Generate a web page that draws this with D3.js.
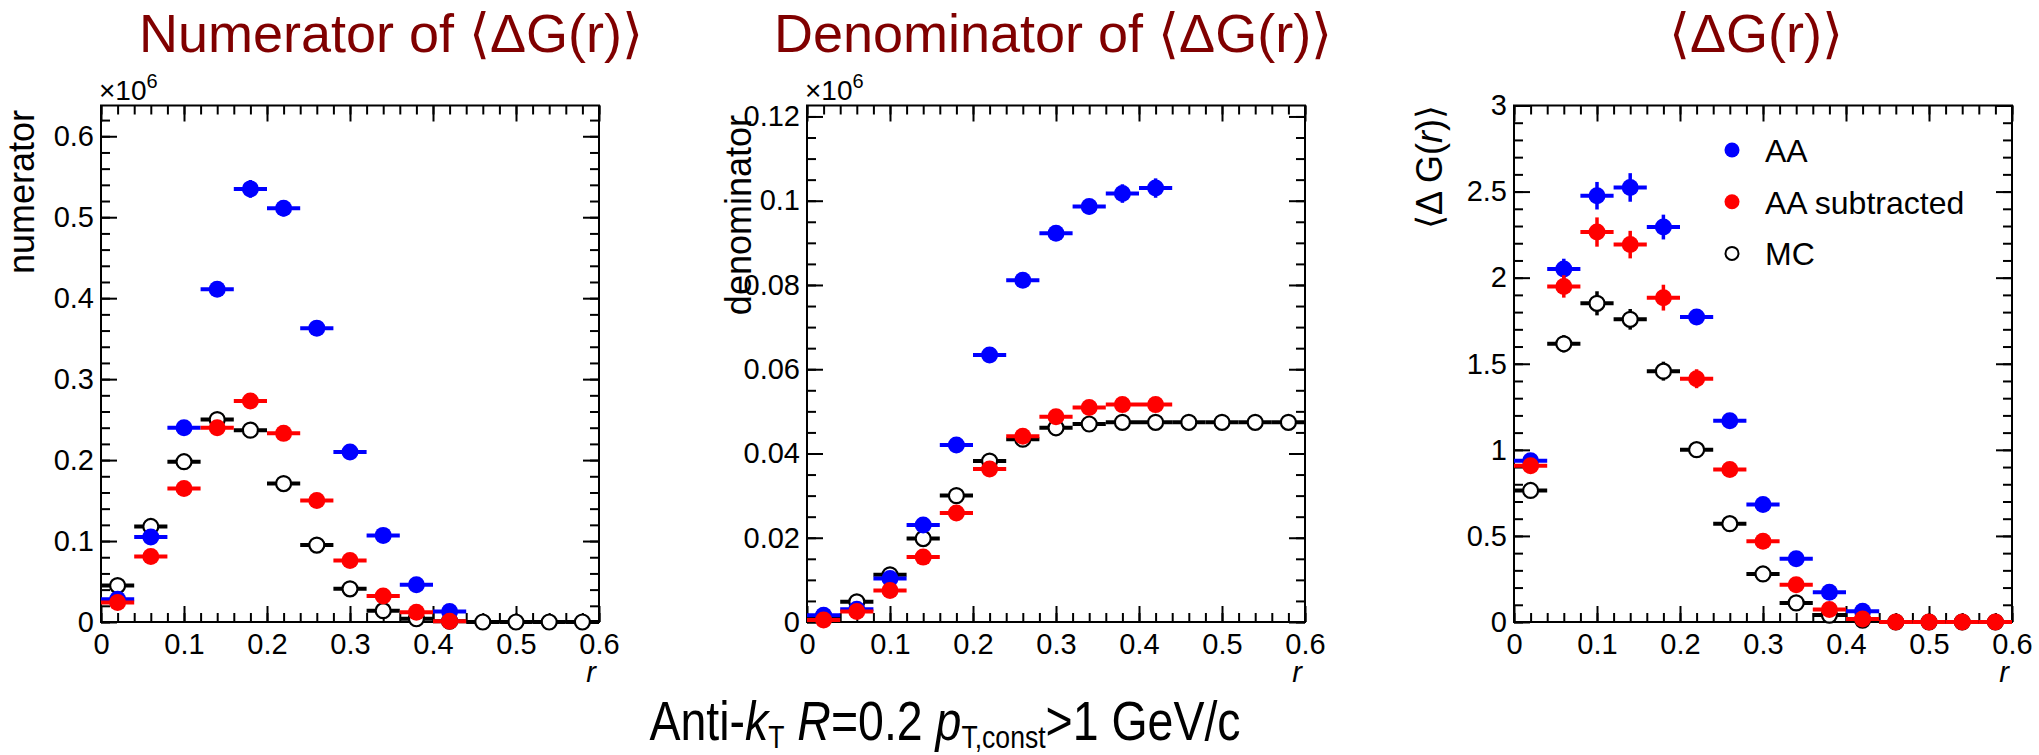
<!DOCTYPE html>
<html>
<head>
<meta charset="utf-8">
<title>Numerator / Denominator of &lt;ΔG(r)&gt;</title>
<script src="https://cdn.jsdelivr.net/npm/d3@7"></script>
<style>
  body { margin: 0; background: #fff; }
  text { font-family: "Liberation Sans", Arial, sans-serif; }
</style>
</head>
<body>
<svg id="fig" width="2039" height="755"></svg>
<script>
// bin centres in r (bin width 0.04)
var rBins = [0.02, 0.06, 0.10, 0.14, 0.18, 0.22, 0.26, 0.30, 0.34, 0.38, 0.42, 0.46, 0.50, 0.54, 0.58];
var binHalf = 0.02;

// numerator (x10^6)
var numAA     = [0.028, 0.105, 0.240, 0.411, 0.535, 0.511, 0.363, 0.210, 0.107, 0.046, 0.013];
var numAAErr  = [0.003, 0.004, 0.006, 0.008, 0.011, 0.010, 0.007, 0.005, 0.004, 0.003, 0.002];
var numSub    = [0.024, 0.081, 0.165, 0.240, 0.273, 0.233, 0.150, 0.076, 0.032, 0.012, 0.001];
var numSubErr = [0.003, 0.004, 0.006, 0.008, 0.008, 0.007, 0.006, 0.004, 0.003, 0.002, 0.001];
var numMC     = [0.045, 0.118, 0.198, 0.250, 0.237, 0.171, 0.095, 0.041, 0.014, 0.004, 0.001, 0, 0, 0, 0];
var numMCErr  = [0.001, 0.002, 0.002, 0.003, 0.003, 0.002, 0.002, 0.001, 0.001, 0.001, 0, 0, 0, 0, 0];

// denominator (x10^6)
var denAA     = [0.0016, 0.0030, 0.0103, 0.0230, 0.0420, 0.0634, 0.0811, 0.0923, 0.0986, 0.1017, 0.1030];
var denAAErr  = [0.0003, 0.0004, 0.0006, 0.0008, 0.0010, 0.0012, 0.0014, 0.0016, 0.0018, 0.0022, 0.0023];
var denSub    = [0.0005, 0.0025, 0.0075, 0.0154, 0.0259, 0.0363, 0.0441, 0.0487, 0.0509, 0.0516, 0.0516];
var denSubErr = [0.0003, 0.0004, 0.0006, 0.0008, 0.0009, 0.0010, 0.0011, 0.0012, 0.0012, 0.0013, 0.0013];
var denMC     = [0.0014, 0.0048, 0.0112, 0.0198, 0.0300, 0.0382, 0.0434, 0.0461, 0.0470, 0.0474, 0.0474, 0.0474, 0.0474, 0.0474, 0.0474];
var denMCErr  = [0.0001, 0.0002, 0.0003, 0.0003, 0.0004, 0.0004, 0.0004, 0.0004, 0.0004, 0.0004, 0.0004, 0.0004, 0.0004, 0.0004, 0.0004];

// <DeltaG(r)>
var dgAA      = [0.937, 2.050, 2.476, 2.524, 2.294, 1.771, 1.169, 0.682, 0.368, 0.173, 0.062];
var dgAAErr   = [0.030, 0.060, 0.080, 0.083, 0.072, 0.045, 0.030, 0.025, 0.020, 0.015, 0.010];
var dgSub     = [0.908, 1.949, 2.265, 2.192, 1.884, 1.413, 0.886, 0.469, 0.217, 0.073, 0.018, 0, 0, 0, 0];
var dgSubErr  = [0.035, 0.065, 0.085, 0.080, 0.075, 0.055, 0.030, 0.025, 0.020, 0.015, 0.010, 0, 0, 0, 0];
var dgMC      = [0.764, 1.616, 1.851, 1.758, 1.457, 1.001, 0.571, 0.279, 0.111, 0.040, 0.011, 0, 0, 0, 0];
var dgMCErr   = [0.020, 0.050, 0.070, 0.060, 0.055, 0.030, 0.020, 0.015, 0.010, 0.010, 0.005, 0, 0, 0, 0];

var xTicks = [0, 0.1, 0.2, 0.3, 0.4, 0.5, 0.6];
var legendNames = ["AA", "AA subtracted", "MC"];

var svg = d3.select("#fig");
var BLUE = "#0000ff", RED = "#ff0000";
var Y0 = 622, Y1 = 105.5;

// soft edge like the ROOT png markers
svg.append("defs").append("filter").attr("id", "soft")
  .append("feGaussianBlur").attr("stdDeviation", 0.7);

function fmt(v) { return String(+v.toFixed(4)); }

function drawPanel(p) {
  var g = svg.append("g");
  var x = d3.scaleLinear().domain([0, 0.6]).range([p.x0, p.x1]);
  var y = d3.scaleLinear().domain([0, p.ymax]).range([Y0, Y1]);

  var xMinor = d3.range(0, 0.6001, 0.02);
  var yMinor = d3.range(0, p.ymax + 1e-9, p.yMinorStep);

  function axis(gen, vals, size, labels, pad, tr) {
    var a = gen.tickValues(vals).tickSizeInner(size).tickSizeOuter(0)
      .tickPadding(pad).tickFormat(labels ? fmt : "");
    var ga = g.append("g").attr("transform", tr).call(a);
    ga.select(".domain").remove();
    ga.selectAll("line").attr("stroke", "#000").attr("stroke-width", 2);
    ga.selectAll("text").attr("font-size", 29).attr("fill", "#000")
      .style("font-family", '"Liberation Sans", Arial, sans-serif');
    return ga;
  }
  axis(d3.axisBottom(x), xMinor, -9, false, 0, "translate(0," + Y0 + ")");
  axis(d3.axisBottom(x), xTicks, -16, true, 11, "translate(0," + Y0 + ")");
  axis(d3.axisTop(x), xMinor, -9, false, 0, "translate(0," + Y1 + ")");
  axis(d3.axisTop(x), xTicks, -16, false, 0, "translate(0," + Y1 + ")");
  axis(d3.axisLeft(y), yMinor, -9, false, 0, "translate(" + p.x0 + ",0)");
  axis(d3.axisLeft(y), p.yTicks, -16, true, 7, "translate(" + p.x0 + ",0)");
  axis(d3.axisRight(y), yMinor, -9, false, 0, "translate(" + p.x1 + ",0)");
  axis(d3.axisRight(y), p.yTicks, -16, false, 0, "translate(" + p.x1 + ",0)");

  g.append("rect").attr("x", p.x0).attr("y", Y1)
    .attr("width", p.x1 - p.x0).attr("height", Y0 - Y1)
    .attr("fill", "none").attr("stroke", "#000").attr("stroke-width", 2);

  // series: MC first, then AA, then AA subtracted on top
  p.series.forEach(function (s) {
    var pts = s.vals.map(function (v, i) { return { r: rBins[i], v: v, e: s.errs[i] }; });
    var sg = g.append("g");
    sg.selectAll("line.h").data(pts).enter().append("line")
      .attr("x1", function (d) { return x(d.r - binHalf); })
      .attr("x2", function (d) { return x(d.r + binHalf); })
      .attr("y1", function (d) { return y(d.v); })
      .attr("y2", function (d) { return y(d.v); })
      .attr("stroke", s.color).attr("stroke-width", 4);
    sg.selectAll("line.v").data(pts).enter().append("line")
      .attr("x1", function (d) { return x(d.r); })
      .attr("x2", function (d) { return x(d.r); })
      .attr("y1", function (d) { return y(d.v - d.e); })
      .attr("y2", function (d) { return y(d.v + d.e); })
      .attr("stroke", s.color).attr("stroke-width", 3.5);
    sg.selectAll("circle").data(pts).enter().append("circle")
      .attr("cx", function (d) { return x(d.r); })
      .attr("cy", function (d) { return y(d.v); })
      .attr("r", s.open ? 7.5 : 8.5)
      .attr("fill", s.open ? "#fff" : s.color)
      .attr("stroke", s.open ? "#000" : "none")
      .attr("stroke-width", s.open ? 2.2 : 0)
      .attr("filter", s.open ? null : "url(#soft)");
  });

  // x title
  g.append("text").attr("x", p.x1 - 3).attr("y", 682)
    .attr("text-anchor", "end").attr("font-size", 29).attr("font-style", "italic").text("r");

  // y title
  var yt = g.append("text")
    .attr("transform", "translate(" + p.ytx + "," + p.yty + ") rotate(-90)")
    .attr("text-anchor", "end").attr("font-size", 36);
  p.yTitle(yt);

  if (p.exp) {
    var ex = g.append("text").attr("x", p.x0 - 2).attr("y", 100).attr("font-size", 28);
    ex.append("tspan").text("×10");
    ex.append("tspan").attr("font-size", 20).attr("dy", -12).text("6");
  }

  // slide title
  svg.append("text").attr("x", p.tx).attr("y", 52)
    .attr("text-anchor", "middle").attr("font-size", 54).attr("fill", "#800000")
    .text(p.title + "⟨ΔG(r)⟩");
  return { x: x, y: y, g: g };
}

drawPanel({
  x0: 101, x1: 599, ymax: 0.638, yTicks: [0, 0.1, 0.2, 0.3, 0.4, 0.5, 0.6], yMinorStep: 0.02,
  exp: true, tx: 391, title: "Numerator of ",
  ytx: 34, yty: 110, yTitle: function (t) { t.text("numerator"); },
  series: [
    { vals: numMC, errs: numMCErr, color: "#000", open: true },
    { vals: numAA, errs: numAAErr, color: BLUE },
    { vals: numSub, errs: numSubErr, color: RED }
  ]
});

drawPanel({
  x0: 807, x1: 1305, ymax: 0.1226, yTicks: [0, 0.02, 0.04, 0.06, 0.08, 0.1, 0.12], yMinorStep: 0.005,
  exp: true, tx: 1053, title: "Denominator of ",
  ytx: 751, yty: 115, yTitle: function (t) { t.text("denominator"); },
  series: [
    { vals: denMC, errs: denMCErr, color: "#000", open: true },
    { vals: denAA, errs: denAAErr, color: BLUE },
    { vals: denSub, errs: denSubErr, color: RED }
  ]
});

var p3 = drawPanel({
  x0: 1514, x1: 2012, ymax: 3, yTicks: [0, 0.5, 1, 1.5, 2, 2.5, 3], yMinorStep: 0.1,
  exp: false, tx: 1756, title: "",
  ytx: 1442, yty: 105, yTitle: function (t) {
    t.append("tspan").text("⟨Δ G(");
    t.append("tspan").attr("font-style", "italic").text("r");
    t.append("tspan").text(")⟩");
  },
  series: [
    { vals: dgMC, errs: dgMCErr, color: "#000", open: true },
    { vals: dgAA, errs: dgAAErr, color: BLUE },
    { vals: dgSub, errs: dgSubErr, color: RED }
  ]
});

// legend
var legColors = [BLUE, RED, "#000"];
var leg = p3.g.append("g");
legendNames.forEach(function (name, i) {
  var cy = 150 + i * 51.7;
  leg.append("circle").attr("cx", 1732).attr("cy", cy).attr("r", i < 2 ? 7.5 : 6.5)
    .attr("fill", i < 2 ? legColors[i] : "#fff")
    .attr("stroke", i < 2 ? "none" : "#000").attr("stroke-width", 2)
    .attr("filter", i < 2 ? "url(#soft)" : null);
  leg.append("text").attr("x", 1765).attr("y", cy + 12).attr("font-size", 32).text(name);
});

// bottom caption (condensed slide font)
var cap = svg.append("text")
  .attr("transform", "translate(945,740) scale(0.83,1)")
  .attr("text-anchor", "middle").attr("font-size", 56).attr("fill", "#000");
cap.append("tspan").text("Anti-");
cap.append("tspan").attr("font-style", "italic").text("k");
cap.append("tspan").attr("font-size", 32).attr("dy", 8).text("T");
cap.append("tspan").attr("dy", -8).text(" ");
cap.append("tspan").attr("font-style", "italic").text("R");
cap.append("tspan").text("=0.2 ");
cap.append("tspan").attr("font-style", "italic").text("p");
cap.append("tspan").attr("font-size", 32).attr("dy", 8).text("T,const");
cap.append("tspan").attr("dy", -8).text(">1 GeV/c");
</script>
</body>
</html>
